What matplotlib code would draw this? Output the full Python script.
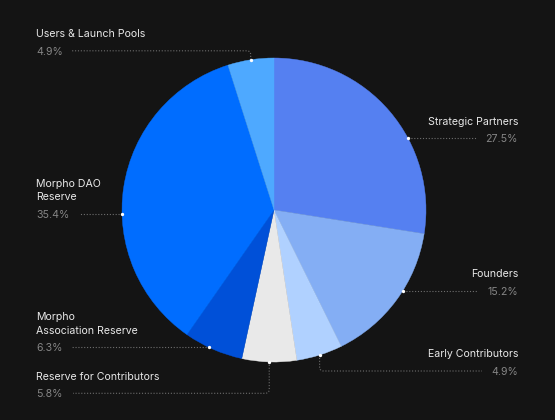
import numpy as np
import matplotlib.pyplot as plt
import matplotlib as mpl
from matplotlib.path import Path
from matplotlib.patches import PathPatch

mpl.rcParams['font.family'] = ['Inter', 'DejaVu Sans']

# data
labels = ["Strategic Partners", "Founders", "Early Contributors",
          "Reserve for Contributors", "Morpho\nAssociation Reserve",
          "Morpho DAO\nReserve", "Users & Launch Pools"]
shares = [27.5, 15.2, 4.9, 5.8, 6.3, 35.4, 4.9]
colors = ["#5580F1", "#84AEF4", "#B0D1FF", "#E9E9E9",
          "#0050D8", "#006DFF", "#4EA9FF"]

# label layout (pixel coords from top-left)
side = ["right", "right", "right", "left", "left", "left", "left"]
pct_y = [138.3, 291.0, 371.0, 393.3, 347.3, 214.0, 50.8]
lead_end = [476, 478, 482, 73, 71, 80, 71]
elbow = [False, False, True, True, False, False, True]

W, H = 555, 420
CX, CY, R = 274, 210, 152
BG = "#141414"
NAME_C = "#E8E8E8"
PCT_C = "#858585"
LINE_C = "#6E6E6E"
FS = 7.6


def rounded_path(pts, r=4):
    verts = [pts[0]]
    codes = [Path.MOVETO]
    for i in range(1, len(pts) - 1):
        p0, p1, p2 = map(np.array, (pts[i - 1], pts[i], pts[i + 1]))
        d0 = (p1 - p0) / np.linalg.norm(p1 - p0)
        d1 = (p2 - p1) / np.linalg.norm(p2 - p1)
        rr = min(r, np.linalg.norm(p1 - p0) / 2, np.linalg.norm(p2 - p1) / 2)
        verts += [tuple(p1 - d0 * rr), tuple(p1), tuple(p1 + d1 * rr)]
        codes += [Path.LINETO, Path.CURVE3, Path.CURVE3]
    verts.append(pts[-1])
    codes.append(Path.LINETO)
    return Path(verts, codes)


fig = plt.figure(figsize=(W / 100, H / 100), dpi=100, facecolor=BG)
ax = fig.add_axes([0, 0, 1, 1])
ax.set_facecolor(BG)

wedges, _ = ax.pie(shares, colors=colors, startangle=-90, counterclock=True,
                   center=(CX, CY), radius=R,
                   wedgeprops=dict(linewidth=0.3))
for w, c in zip(wedges, colors):
    w.set_edgecolor(c)

ax.set_xlim(0, W)
ax.set_ylim(H, 0)
ax.set_aspect('equal')
ax.axis('off')

for i, w in enumerate(wedges):
    y = pct_y[i]
    right = side[i] == "right"
    if elbow[i]:
        th = np.deg2rad((w.theta1 + w.theta2) / 2)
        dx, dy = CX + R * np.cos(th), CY + R * np.sin(th)
        pts = [(dx, dy), (dx, y), (lead_end[i], y)]
    else:
        off = np.sqrt(R ** 2 - (y - CY) ** 2)
        dx = CX + off if right else CX - off
        dy = y
        pts = [(dx, dy), (lead_end[i], y)]
    ax.add_patch(PathPatch(rounded_path(pts), fill=False, edgecolor=LINE_C,
                           lw=0.8, linestyle=(0, (1, 1.6))))
    ax.plot(dx, dy, 'o', color="white", ms=2.4, mec="none", zorder=5)

    tx = 518 if right else 36
    ha = "right" if right else "left"
    ax.text(tx, y + 3.8, f"{shares[i]}%", color=PCT_C, fontsize=FS,
            ha=ha, va="baseline")
    lines = labels[i].split("\n")
    for k, ln in enumerate(reversed(lines)):
        ax.text(tx, y + 3.8 - 17.5 - 13.2 * k, ln, color=NAME_C, fontsize=FS,
                ha=ha, va="baseline")

fig.savefig("out.png", dpi=100, facecolor=BG)
